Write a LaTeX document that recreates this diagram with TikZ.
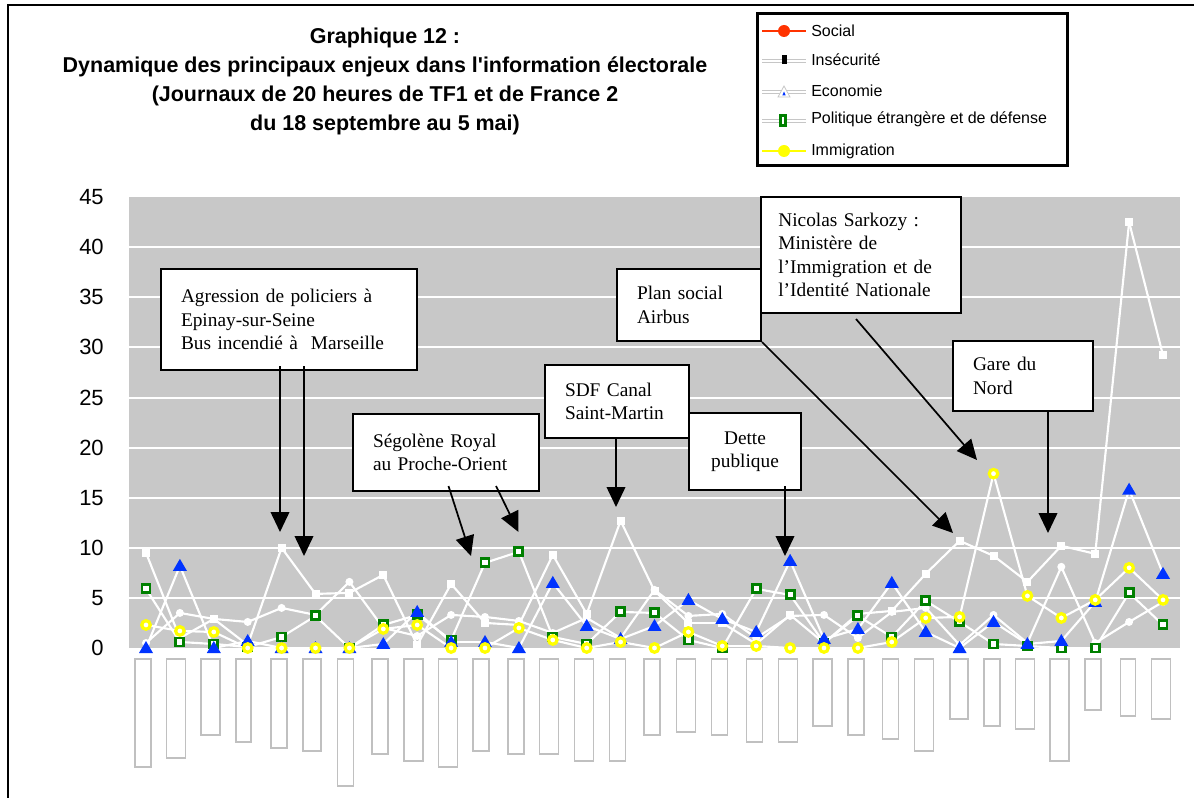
\documentclass[tikz,border=0pt]{standalone}
\usepackage{fontspec}
\setmainfont{Liberation Sans}[Ligatures=TeXOff]
\newfontfamily\notefont{Liberation Serif}
\usepackage{tikz}
\usetikzlibrary{arrows.meta}
\definecolor{plotgray}{HTML}{C8C8C8}
\definecolor{barline}{HTML}{C0C0C0}
\definecolor{ecoblue}{HTML}{0033FF}
\definecolor{polgreen}{HTML}{008000}
\definecolor{immyellow}{HTML}{FFFF00}
\definecolor{socialred}{HTML}{FF3300}

% one value per period, 31 periods
\newcommand{\dataA}{9.5,1.0,2.9,0.3,10.0,5.4,5.5,7.3,0.3,6.4,2.5,2.3,9.3,3.4,12.7,5.7,2.5,2.5,0.4,3.3,0.5,3.4,3.7,7.4,10.7,9.2,6.6,10.2,9.4,42.5,29.2}
\newcommand{\dataB}{0.5,3.5,2.9,2.6,4.0,3.3,6.6,2.0,1.2,3.3,3.1,2.7,1.5,3.0,1.0,5.8,3.2,3.4,1.0,3.2,3.3,1.0,3.6,4.0,0.3,3.3,0.5,8.1,0.5,2.6,4.6}
\newcommand{\dataeco}{0,8.2,0,0.7,0,0,0,0.4,3.6,0.6,0.6,0,6.5,2.2,0.9,2.2,4.8,2.9,1.6,8.7,0.9,1.9,6.5,1.6,0,2.6,0.4,0.7,4.6,15.8,7.4}
\newcommand{\datapol}{5.9,0.6,0.4,0.1,1.1,3.2,0,2.3,3.3,0.8,8.5,9.6,1.1,0.4,3.6,3.5,0.8,0,5.9,5.3,0.5,3.2,1.1,4.7,2.6,0.4,0.2,0,0,5.5,2.3}
\newcommand{\dataimm}{2.3,1.7,1.6,0,0,0,0,1.9,2.3,0,0,2.0,0.8,0,0.6,0,1.6,0.2,0.2,0,0,0,0.6,3.0,3.1,17.4,5.2,3.0,4.8,8.0,4.8}

% white polyline through one series
\newcommand{\courbe}[1]{%
  \foreach \v [count=\i from 0, remember=\v as \w (initially 0)] in #1 {%
    \ifnum\i>0 \draw[serie] ({146+33.9*(\i-1)},{648-10.02*\w}) -- ({146+33.9*\i},{648-10.02*\v}); \fi}}

\begin{document}
\begin{tikzpicture}[x=0.75pt,y=-0.75pt,
  note/.style={draw=black,line width=1.5pt,fill=white,inner xsep=15pt,inner ysep=2pt,
    align=left,anchor=north west,font=\notefont\fontsize{14.5}{17.6}\selectfont},
  callout/.style={line width=1.3pt,-{Triangle[length=15pt,width=14pt]}},
  serie/.style={white,line width=1.6pt,line cap=round},
  legtext/.style={anchor=west,inner sep=0pt,font=\fontsize{12}{13}\selectfont},
  legline/.style={draw=gray!45,double=white,double distance=2pt,line width=0.6pt}]
  \useasboundingbox (0,0) rectangle (1194,798);

  % frame
  \draw[line width=2.2pt] (8,798) -- (8,5) -- (1194,5);

  % title
  \node[align=center,font=\bfseries\fontsize{16.1}{21.75}\selectfont] (titre) at (385,81)
    {Graphique 12 :\\Dynamique des principaux enjeux dans l'information électorale\\(Journaux de 20 heures de TF1 et de France 2\\du 18 septembre au 5 mai)};

  % legend
  \node[draw,line width=2pt,minimum width=232.5pt,minimum height=114pt,inner sep=0pt,anchor=north west] (legende) at (756,12) {};
  \draw[socialred,line width=2.2pt] (762,31) -- (806,31);
  \fill[socialred] (784,31) circle (4.5pt);
  \node[legtext] (lsocial) at (811,31) {Social};
  \draw[legline] (762,61) -- (806,61);
  \fill[black] (781.5,55) rectangle (786.5,64);
  \node[legtext] (lsecu) at (811,60) {Insécurité};
  \draw[legline] (762,92) -- (806,92);
  \draw[gray!45,fill=white,line width=0.6pt] (778,97) -- (790,97) -- (784,86) -- cycle;
  \fill[ecoblue] (782.3,95.5) -- (785.7,95.5) -- (784,91.5) -- cycle;
  \node[legtext] (leco) at (811,91) {Economie};
  \draw[legline] (762,121) -- (806,121);
  \draw[polgreen,line width=2.2pt,fill=white] (780.5,115.5) rectangle (785.5,125.5);
  \node[legtext] (lpol) at (811,119) {Politique étrangère et de défense};
  \draw[immyellow,line width=2.2pt] (762,151) -- (806,151);
  \fill[immyellow] (784,151) circle (4.5pt);
  \node[legtext] (limm) at (811,151) {Immigration};

  % axis values
  \foreach \t in {0,5,...,45}
    \node[anchor=east,inner sep=0pt,font=\fontsize{16.5}{18}\selectfont] (ylab\t) at (104,{648-10.02*\t}) {\t};

  % plot area
  \fill[plotgray] (129,197) rectangle (1180,648);
  \foreach \t in {5,10,...,40}
    \draw[white,line width=1.5pt] (129,{648-10.02*\t}) -- (1180,{648-10.02*\t});

  % bars under the zero line
  \foreach \bx/\bw/\bb in {135/16/767,166.5/19/758,201/19/735,236/15/742,271/16/748,303/18/751,
      337.5/16/786,372/16/754,404/19/761,438.5/19/767,473/16/751,508/16/754,539.5/19/754,
      574.5/19/761,609.5/16/761,644/16/735,676.5/19/732,711.5/16/735,746.5/16/742,778.5/19/742,
      813/19/726,848/16/735,882.5/16/739,914.5/19/751,950/18/719,984/16/726,1015.5/19/729,
      1050/19/761,1085/16/710,1120.5/15/716,1151.5/19/719}
    \draw[barline,line width=0.8pt,fill=white] (\bx,659) rectangle ({\bx+\bw},\bb);

  % curves
  \courbe{\dataA}
  \courbe{\dataB}
  \courbe{\dataeco}
  \courbe{\datapol}
  \courbe{\dataimm}

  % markers
  \foreach \v [count=\i from 0] in \dataA
    \fill[white] ({146+33.9*\i-4},{648-10.02*\v-4}) rectangle ++(8,8);
  \foreach \v [count=\i from 0] in \dataB
    \fill[white] ({146+33.9*\i},{648-10.02*\v}) circle (3pt);
  \foreach \v [count=\i from 0] in \datapol
    \draw[polgreen,line width=2.2pt,fill=white] ({146+33.9*\i-4},{648-10.02*\v-4}) rectangle ++(8,8);
  \foreach \v [count=\i from 0] in \dataeco
    \fill[ecoblue] ({146+33.9*\i},{648-10.02*\v}) ++(-7,5) -- ++(14,0) -- ++(-7,-12) -- cycle;
  \foreach \v [count=\i from 0] in \dataimm
    \draw[immyellow,line width=2.4pt,fill=white] ({146+33.9*\i},{648-10.02*\v}) circle (3.2pt);

  % events
  \node[note,text width=162pt,minimum height=75.75pt] (agr) at (160,268)
    {Agression de policiers à\\Epinay-sur-Seine\\Bus incendié à \ Marseille};
  \node[note,text width=109.5pt,minimum height=57.75pt] (sego) at (352,413)
    {Ségolène Royal\\au Proche-Orient};
  \node[note,text width=78pt,minimum height=54.75pt] (sdf) at (544,364)
    {SDF Canal\\Saint-Martin};
  \node[note,text width=60pt,inner xsep=12pt,align=center,minimum height=57.75pt] (dette) at (688,412)
    {Dette\\publique};
  \node[note,text width=78pt,minimum height=54pt] (plan) at (616,268)
    {Plan social\\Airbus};
  \node[note,text width=124pt,inner xsep=13pt,minimum height=87pt] (sarko) at (760,196)
    {Nicolas Sarkozy :\\Ministère de\\l’Immigration et de\\l’Identité Nationale};
  \node[note,text width=75pt,minimum height=52.5pt] (gare) at (952,340)
    {Gare du\\Nord};

  \coordinate (tagr1) at (280,532);
  \coordinate (tagr2) at (304,556);
  \coordinate (tsego1) at (471,556);
  \coordinate (tsego2) at (518.5,532);
  \coordinate (tsdf) at (616,507);
  \coordinate (tdette) at (785,556);
  \coordinate (tplan) at (953,533);
  \coordinate (tsarko) at (977,460);
  \coordinate (tgare) at (1048,533);
  \draw[callout] ([shift={(120,-5)}]agr.south west) -- (tagr1);
  \draw[callout] ([shift={(144,-5)}]agr.south west) -- (tagr2);
  \draw[callout] ([shift={(96.5,-6)}]sego.south west) -- (tsego1);
  \draw[callout] ([shift={(144,-6)}]sego.south west) -- (tsego2);
  \draw[callout] ([shift={(72,0)}]sdf.south west) -- (tsdf);
  \draw[callout] ([shift={(97,-5)}]dette.south west) -- (tdette);
  \draw[callout] (plan.south east) -- (tplan);
  \draw[callout] ([shift={(96,5)}]sarko.south west) -- (tsarko);
  \draw[callout] ([shift={(96,0)}]gare.south west) -- (tgare);
\end{tikzpicture}
\end{document}
